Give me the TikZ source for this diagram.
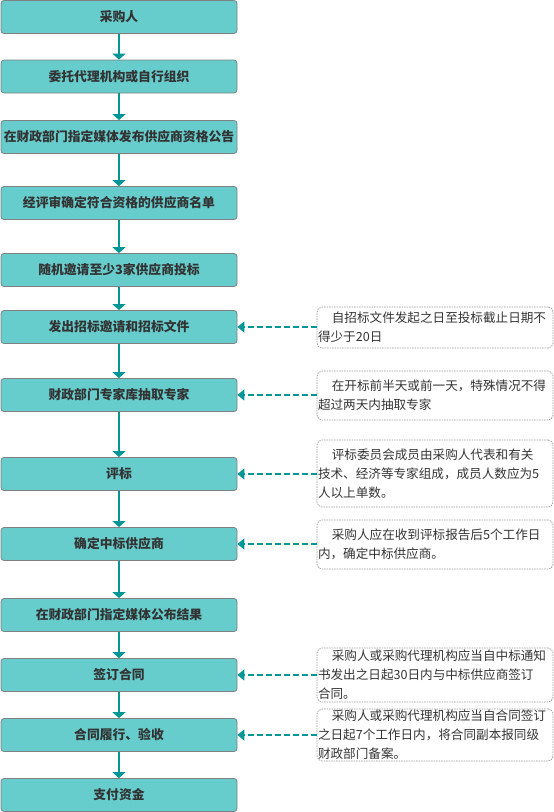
\documentclass[tikz,border=0pt]{standalone}
\usepackage{fontspec}
\setmainfont{Noto Sans CJK SC}
\usetikzlibrary{arrows.meta}
\definecolor{boxfill}{RGB}{102,204,204}
\definecolor{boxline}{RGB}{128,128,128}
\definecolor{flow}{RGB}{0,150,150}
\definecolor{txt}{RGB}{51,51,51}
\newcommand{\ind}{\hspace*{1.1em}}
\tikzset{
  stage/.style={draw=boxline, line width=0.8pt, fill=boxfill, rounded corners=3pt, minimum width=236pt, minimum height=33pt, inner sep=0pt, text=txt, font=\fontsize{12.8}{15}\selectfont\bfseries},
  remark/.style={draw=boxline!80, line width=0.7pt, dash pattern=on 1.5pt off 1pt, rounded corners=5pt, text width=234pt, inner xsep=1pt, inner ysep=0pt, align=left, text=txt, font=\fontsize{12.6}{19}\selectfont},
  flowarrow/.style={flow, line width=1.6pt, -{Triangle[width=13pt,length=6pt]}},
  hint/.style={flow, line width=1.6pt, dash pattern=on 6pt off 3pt, -{Triangle[width=11pt,length=7pt]}}
}
\begin{document}
\begin{tikzpicture}[x=1pt,y=-1pt]
\useasboundingbox (0,0) rectangle (554,812);
\node[stage] (b1) at (119,17) {采购人};
\node[stage] (b2) at (119,76.5) {委托代理机构或自行组织};
\node[stage] (b3) at (119,137) {在财政部门指定媒体发布供应商资格公告};
\node[stage] (b4) at (119,203) {经评审确定符合资格的供应商名单};
\node[stage] (b5) at (119,270) {随机邀请至少3家供应商投标};
\node[stage] (b6) at (119,327) {发出招标邀请和招标文件};
\node[stage] (b7) at (119,395) {财政部门专家库抽取专家};
\node[stage] (b8) at (119,474) {评标};
\node[stage] (b9) at (119,544) {确定中标供应商};
\node[stage] (b10) at (119,615) {在财政部门指定媒体公布结果};
\node[stage] (b11) at (119,675) {签订合同};
\node[stage] (b12) at (119,735) {合同履行、验收};
\node[stage] (b13) at (119,795) {支付资金};
\node[remark, minimum height=41pt] (n1) at (435,327.5) {\ind 自招标文件发起之日至投标截止日期不\\得少于20日};
\node[remark, minimum height=49pt] (n2) at (435,395.5) {\ind 在开标前半天或前一天，特殊情况不得\\超过两天内抽取专家};
\node[remark, minimum height=67pt] (n3) at (435,473.5) {\ind 评标委员会成员由采购人代表和有关\\技术、经济等专家组成，成员人数应为5\\人以上单数。};
\node[remark, minimum height=49pt] (n4) at (435,544.5) {\ind 采购人应在收到评标报告后5个工作日\\内，确定中标供应商。};
\node[remark, minimum height=54pt] (n5) at (435,675) {\ind 采购人或采购代理机构应当自中标通知\\书发出之日起30日内与中标供应商签订\\合同。};
\node[remark, minimum height=52pt] (n6) at (435,735) {\ind 采购人或采购代理机构应当自合同签订\\之日起7个工作日内，将合同副本报同级\\财政部门备案。};
\foreach \a/\b in {b1/b2, b2/b3, b3/b4, b4/b5, b5/b6, b6/b7, b7/b8, b8/b9, b9/b10, b10/b11, b11/b12, b12/b13}
  \draw[flowarrow] (\a) -- (\b);
\foreach \n/\b in {n1/b6, n2/b7, n3/b8, n4/b9, n5/b11, n6/b12}
  \draw[hint] (\b.east -| \n.west) -- (\b.east);
\end{tikzpicture}
\end{document}
